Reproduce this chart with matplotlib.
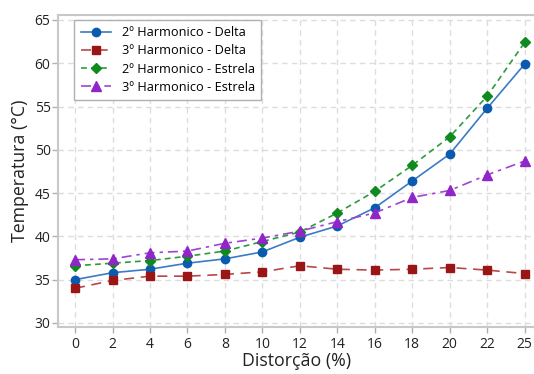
import numpy as np
import matplotlib
matplotlib.use("Agg")
import matplotlib.pyplot as plt

plt.rcParams['font.family'] = ['Open Sans', 'DejaVu Sans']

# distortion levels (%), plotted at evenly spaced positions
distorcao = ['0', '2', '4', '6', '8', '10', '12', '14', '16', '18', '20', '22', '25']

h2_delta = [35.0, 35.8, 36.2, 36.9, 37.4, 38.2, 39.9, 41.2, 43.3, 46.4, 49.5, 54.8, 59.9]
h3_delta = [34.0, 34.9, 35.4, 35.4, 35.6, 35.9, 36.6, 36.2, 36.1, 36.2, 36.4, 36.1, 35.7]
h2_estrela = [36.6, 36.9, 37.2, 37.7, 38.3, 39.4, 40.5, 42.7, 45.2, 48.2, 51.5, 56.2, 62.4]
h3_estrela = [37.3, 37.4, 38.1, 38.3, 39.2, 39.8, 40.6, 41.7, 42.7, 44.5, 45.3, 47.1, 48.7]

x = np.arange(len(distorcao))

fig = plt.figure(figsize=(5.34, 3.74), dpi=100)
ax = fig.add_axes([0.109, 0.126, 0.891, 0.834])

ax.plot(x, h2_delta, color='#3a7cc4', lw=1.2, ls='-',
        marker='o', ms=6, mfc='#0a5bb0', mec='#0a5bb0', label='2º Harmonico - Delta')
ax.plot(x, h3_delta, color='#b84848', lw=1.2, ls=(0, (6, 4)),
        marker='s', ms=6, mfc='#9a1515', mec='#9a1515', label='3º Harmonico - Delta')
ax.plot(x, h2_estrela, color='#2e9a3e', lw=1.2, ls=(0, (3.5, 2.5)),
        marker='D', ms=5.5, mfc='#0f8a1f', mec='#0f8a1f', label='2º Harmonico - Estrela')
ax.plot(x, h3_estrela, color='#a044d0', lw=1.2, ls=(0, (6, 3, 2, 3)),
        marker='^', ms=6.5, mfc='#9025c8', mec='#9025c8', label='3º Harmonico - Estrela')

ax.set_xlim(-0.45, 12.25)
ax.set_ylim(29.54, 65.58)
ax.set_xticks(x)
ax.set_xticklabels(distorcao)
ax.set_yticks(np.arange(30, 66, 5))

ax.grid(True, color='#dddddd', ls=(0, (4, 3)), lw=1)
for side in ['left', 'bottom', 'top']:
    ax.spines[side].set_color('#c8c8c8')
    ax.spines[side].set_linewidth(1.5)
ax.spines['right'].set_visible(False)
ax.tick_params(colors='#222222', labelsize=10, length=4, width=1)
ax.tick_params(axis='both', color='#b0b0b0')
ax.tick_params(axis='y', pad=1.5)
ax.tick_params(axis='x', pad=3)

ax.set_xlabel('Distorção (%)', fontsize=12.8, color='#222222', labelpad=0)
ax.set_ylabel('Temperatura (°C)', fontsize=12.8, color='#222222', labelpad=4)

leg = ax.legend(loc='upper left', bbox_to_anchor=(0.034, 0.984), borderaxespad=0,
                fontsize=9.2, fancybox=False, edgecolor='#b0b0b0', framealpha=1,
                handlelength=2.4, borderpad=0.5, labelspacing=0.4)
leg.get_frame().set_linewidth(1)

fig.savefig('out.png', dpi=100)
